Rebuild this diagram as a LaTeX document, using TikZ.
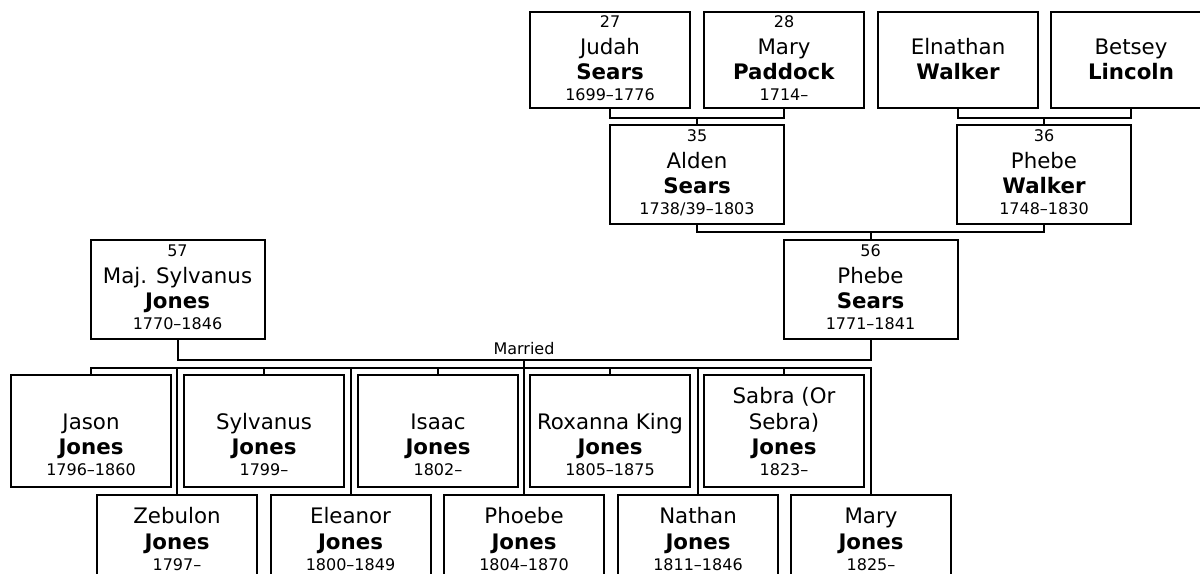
\documentclass[tikz,border=0pt]{standalone}
\usepackage{fontspec}
\setmainfont{DejaVu Sans}
\usetikzlibrary{positioning}

\newcommand{\sm}{\fontsize{12pt}{14pt}\selectfont}
% ancestor box text: number, given name, surname, dates
\newcommand{\anc}[4]{\rule{0pt}{10.5pt}{\sm #1}\\[1.25pt]#2\\\textbf{#3}\\[-3.25pt]{\sm #4}\rule[-5.7pt]{0pt}{5.7pt}}
% struts for the children boxes
\newcommand{\kt}{\rule{0pt}{18pt}}
\newcommand{\kb}{\rule[-5.25pt]{0pt}{5.25pt}}

\tikzset{
  box/.style={draw,line width=1.5pt,align=center,inner sep=0pt,
    font=\fontsize{16pt}{19pt}\selectfont},
  topbox/.style={box,minimum width=120pt,minimum height=72pt},
  midbox/.style={box,minimum width=130.5pt,minimum height=74.25pt},
  kidbox/.style={box,minimum width=120pt,minimum height=84pt},
  link/.style={line width=1.5pt}
}

\begin{document}
\begin{tikzpicture}[x=0.75pt,y=-0.75pt]
\useasboundingbox (0,0) rectangle (1200,574);
\clip (0,0) rectangle (1200,574);

% grandparents
\node[topbox] (judah) at (610,60.5) {\anc{27}{Judah}{Sears}{1699–1776}};
\node[topbox] (mary) at (784,60.5) {\anc{28}{Mary}{Paddock}{1714–}};
\node[topbox] (elnathan) at (958,60.5) {\anc{}{Elnathan}{Walker}{}};
\node[topbox] (betsey) at (1131,60.5) {\anc{}{Betsey}{Lincoln}{}};

% parents of Phebe
\node[midbox] (alden) at (697,174.5) {\anc{35}{Alden}{Sears}{1738/39–1803}};
\node[midbox] (phebew) at (1044,174.5) {\anc{36}{Phebe}{Walker}{1748–1830}};

% the couple
\node[midbox] (sylvanus) at (177.5,289.5) {\anc{57}{Maj. Sylvanus}{Jones}{1770–1846}};
\node[midbox] (phebes) at (870.5,289.5) {\anc{56}{Phebe}{Sears}{1771–1841}};

% children, upper row
\node[kidbox] (jason) at (91,431) {\kt\\Jason\\\textbf{Jones}\\[-3.25pt]{\sm 1796–1860}\kb};
\node[kidbox] (sylvanusjr) at (264,431) {\kt\\Sylvanus\\\textbf{Jones}\\[-3.25pt]{\sm 1799–}\kb};
\node[kidbox] (isaac) at (438,431) {\kt\\Isaac\\\textbf{Jones}\\[-3.25pt]{\sm 1802–}\kb};
\node[kidbox] (roxanna) at (610,431) {\kt\\Roxanna King\\\textbf{Jones}\\[-3.25pt]{\sm 1805–1875}\kb};
\node[kidbox] (sabra) at (784,431) {\kt Sabra (Or\\Sebra)\\\textbf{Jones}\\[-3.25pt]{\sm 1823–}\kb};

% children, lower row
\node[kidbox] (zebulon) at (177,551) {\kt Zebulon\\\textbf{Jones}\\[-3.25pt]{\sm 1797–}\\\kb};
\node[kidbox] (eleanor) at (350.5,551) {\kt Eleanor\\\textbf{Jones}\\[-3.25pt]{\sm 1800–1849}\\\kb};
\node[kidbox] (phoebe) at (524,551) {\kt Phoebe\\\textbf{Jones}\\[-3.25pt]{\sm 1804–1870}\\\kb};
\node[kidbox] (nathan) at (698,551) {\kt Nathan\\\textbf{Jones}\\[-3.25pt]{\sm 1811–1846}\\\kb};
\node[kidbox] (maryj) at (871,551) {\kt Mary\\\textbf{Jones}\\[-3.25pt]{\sm 1825–}\\\kb};

% junctions
\coordinate (j1) at (697,118);
\coordinate (j2) at (1044,118);
\coordinate (j3) at (870.5,232);
\coordinate (j4) at (524,360);
\coordinate (j5) at (524,368);

\draw[link] (judah.south) |- (j1) -| (mary.south);
\draw[link] (j1) -- (alden.north);
\draw[link] (elnathan.south) |- (j2) -| (betsey.south);
\draw[link] (j2) -- (phebew.north);
\draw[link] (alden.south) |- (j3) -| (phebew.south);
\draw[link] (j3) -- (phebes.north);
\draw[link] (sylvanus.south) |- (j4) -| (phebes.south);
\node[font=\sm,inner sep=1pt,above=2.5pt] (married) at (j4) {Married};
\draw[link] (j4) -- (phoebe.north);
\draw[link] (jason.north) |- (j5) -| (maryj.north);
\foreach \k in {sylvanusjr,isaac,roxanna,sabra,zebulon,eleanor,nathan}
  \draw[link] (\k.north) -- (\k.north |- j5);
\end{tikzpicture}
\end{document}
